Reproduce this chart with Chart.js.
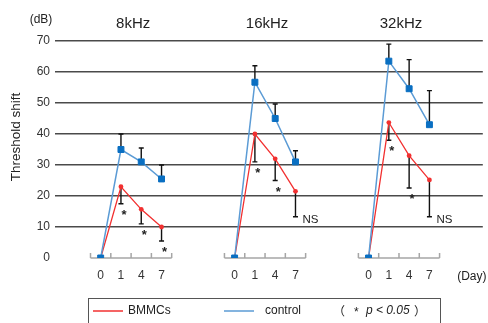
<!DOCTYPE html>
<html>
<head>
<meta charset="utf-8">
<script src="https://cdn.jsdelivr.net/npm/chart.js@4"></script>
<style>
  html, body { margin: 0; padding: 0; background: #fff; }
  #grafico { display: block; }
</style>
</head>
<body>
<canvas id="grafico" width="488" height="323"></canvas>
<script>
// dados (dB)
const days = ["0", "1", "4", "7"];
const panels = ["8kHz", "16kHz", "32kHz"];
const bmmcMean = [
  [0, 23, 15.7, 10],
  [0, 40, 32, 21.5],
  [0, 43.7, 33, 25.2],
];
const bmmcSd = [
  [0, 5.5, 4.7, 4.5],
  [0, 9, 7, 8.2],
  [0, 5.7, 10.4, 11.9],
];
const controlMean = [
  [0, 35, 31, 25.5],
  [0, 56.7, 45, 31],
  [0, 63.5, 54.6, 43],
];
const controlSd = [
  [0, 5, 4.5, 4.5],
  [0, 5.3, 4.7, 3.6],
  [0, 5.5, 9.4, 11],
];
const marks = [
  ["", "*", "*", "*"],
  ["", "*", "*", "NS"],
  ["", "*", "*", "NS"],
];

const PANEL_GAP = 6.6;
const FONT = "'Liberation Sans', Arial, sans-serif";
const CJK = "'Noto Sans CJK JP', sans-serif";
const RED = "#f23030";
const BLUE_LINE = "#5b9bd5";
const BLUE_MARK = "#0a6fc2";

const xPos = (p, i) => p * PANEL_GAP + i;

const datasets = [];
panels.forEach((nome, p) => {
  datasets.push({
    label: "control " + nome,
    data: controlMean[p].map((v, i) => ({ x: xPos(p, i), y: v })),
    borderColor: BLUE_LINE,
    borderWidth: 1.5,
    pointStyle: "rect",
    pointRadius: 4.2,
    pointBorderWidth: 1,
    pointBackgroundColor: BLUE_MARK,
    pointBorderColor: BLUE_MARK,
    tension: 0,
    order: 0,
  });
  datasets.push({
    label: "BMMCs " + nome,
    data: bmmcMean[p].map((v, i) => ({ x: xPos(p, i), y: v })),
    borderColor: RED,
    borderWidth: 1.3,
    pointRadius: 2.4,
    pointBorderWidth: 0,
    pointBackgroundColor: RED,
    tension: 0,
    order: 1,
  });
});

const extras = {
  id: "extras",
  beforeDatasetsDraw(chart) {
    const ctx = chart.ctx;
    const xs = chart.scales.x;
    const ys = chart.scales.y;
    const y0 = ys.getPixelForValue(0);
    ctx.save();
    // eixos de cada painel
    panels.forEach((nome, p) => {
      const a = xs.getPixelForValue(xPos(p, -0.5));
      const b = xs.getPixelForValue(xPos(p, 3.5));
      ctx.strokeStyle = "#a6a6a6";
      ctx.lineWidth = 1.5;
      ctx.beginPath();
      ctx.moveTo(a, y0);
      ctx.lineTo(b, y0);
      for (let k = 0; k <= 4; k++) {
        const t = xs.getPixelForValue(xPos(p, k - 0.5));
        ctx.moveTo(t, y0);
        ctx.lineTo(t, y0 - 5);
      }
      ctx.stroke();
      ctx.fillStyle = "#333";
      ctx.font = "12px " + FONT;
      ctx.textAlign = "center";
      ctx.textBaseline = "middle";
      days.forEach((d, i) => {
        ctx.fillText(d, xs.getPixelForValue(xPos(p, i)), 276);
      });
    });
    // barras de erro
    ctx.strokeStyle = "#111";
    ctx.lineWidth = 1.4;
    panels.forEach((nome, p) => {
      for (let i = 1; i < days.length; i++) {
        const x = xs.getPixelForValue(xPos(p, i));
        const cTop = ys.getPixelForValue(controlMean[p][i] + controlSd[p][i]);
        const bBot = ys.getPixelForValue(bmmcMean[p][i] - bmmcSd[p][i]);
        ctx.beginPath();
        ctx.moveTo(x, ys.getPixelForValue(controlMean[p][i]));
        ctx.lineTo(x, cTop);
        ctx.moveTo(x - 2.5, cTop);
        ctx.lineTo(x + 2.5, cTop);
        ctx.moveTo(x, ys.getPixelForValue(bmmcMean[p][i]));
        ctx.lineTo(x, bBot);
        ctx.moveTo(x - 2.5, bBot);
        ctx.lineTo(x + 2.5, bBot);
        ctx.stroke();
      }
    });
    ctx.restore();
  },
  afterDraw(chart) {
    const ctx = chart.ctx;
    const xs = chart.scales.x;
    const ys = chart.scales.y;
    const area = chart.chartArea;
    ctx.save();
    ctx.fillStyle = "#222";
    // titulos
    ctx.font = "15px " + FONT;
    ctx.textAlign = "center";
    ctx.textBaseline = "middle";
    panels.forEach((nome, p) => {
      ctx.fillText(nome, xs.getPixelForValue(xPos(p, 1.6)), 24);
    });
    ctx.font = "12px " + FONT;
    ctx.fillText("(dB)", 41, 20);
    ctx.fillText("(Day)", area.right - 11, 277);
    ctx.save();
    ctx.translate(16, 137);
    ctx.rotate(-Math.PI / 2);
    ctx.font = "13.5px " + FONT;
    ctx.fillText("Threshold shift", 0, 0);
    ctx.restore();
    // significancia
    panels.forEach((nome, p) => {
      for (let i = 1; i < days.length; i++) {
        const m = marks[p][i];
        if (!m) continue;
        const x = xs.getPixelForValue(xPos(p, i));
        const bBot = ys.getPixelForValue(bmmcMean[p][i] - bmmcSd[p][i]);
        if (m === "*") {
          ctx.font = "bold 13px " + FONT;
          ctx.textAlign = "center";
          ctx.textBaseline = "top";
          ctx.fillText("*", x + 3, bBot + 5);
        } else {
          ctx.font = "11.5px " + FONT;
          ctx.textAlign = "left";
          ctx.textBaseline = "middle";
          ctx.fillText(m, x + 7, bBot + 3);
        }
      }
    });
    // legenda
    ctx.strokeStyle = "#555";
    ctx.lineWidth = 1;
    ctx.strokeRect(88.5, 298.5, 352, 40);
    ctx.lineWidth = 1.5;
    ctx.strokeStyle = RED;
    ctx.beginPath();
    ctx.moveTo(93, 311);
    ctx.lineTo(123, 311);
    ctx.stroke();
    ctx.strokeStyle = BLUE_LINE;
    ctx.beginPath();
    ctx.moveTo(224, 311);
    ctx.lineTo(254, 311);
    ctx.stroke();
    ctx.font = "12px " + FONT;
    ctx.textAlign = "left";
    ctx.textBaseline = "middle";
    ctx.fillText("BMMCs", 128, 311);
    ctx.fillText("control", 265, 311);
    ctx.font = "12px " + CJK;
    ctx.textAlign = "right";
    ctx.fillText("（", 345, 311);
    ctx.textAlign = "left";
    ctx.fillText("）", 414, 311);
    ctx.font = "12px " + FONT;
    ctx.fillText("*", 354, 313);
    ctx.font = "italic 12px " + FONT;
    ctx.fillText("p < 0.05", 366, 311);
    ctx.restore();
  },
};

const ctxGrafico = document.querySelector("#grafico");

new Chart(ctxGrafico, {
  type: "line",
  data: { datasets: datasets },
  options: {
    responsive: false,
    animation: false,
    layout: { padding: { top: 41, bottom: 65, left: 0, right: 5 } },
    plugins: {
      legend: { display: false },
      tooltip: { enabled: false },
    },
    scales: {
      x: {
        type: "linear",
        display: false,
        min: -2.25,
        max: 18.83,
      },
      y: {
        min: 0,
        max: 70,
        afterFit: (scale) => {
          scale.width = 55;
        },
        border: { display: false },
        grid: {
          drawTicks: false,
          lineWidth: 1.6,
          color: (c) => (c.tick && c.tick.value === 0 ? "rgba(0,0,0,0)" : "#4a4a4a"),
        },
        ticks: {
          stepSize: 10,
          padding: 5,
          color: "#333",
          font: { size: 12, family: FONT },
        },
      },
    },
  },
  plugins: [extras],
});
</script>
</body>
</html>
